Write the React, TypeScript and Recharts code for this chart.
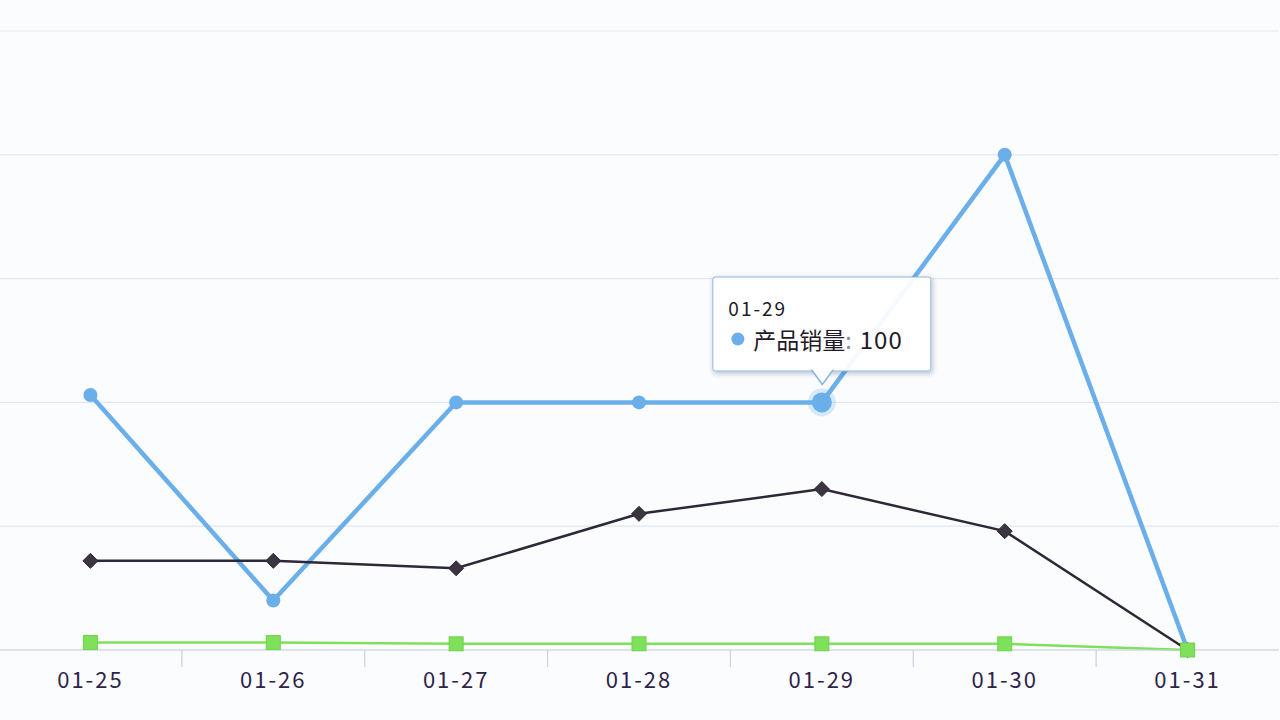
import { LineChart, Line, XAxis, YAxis, CartesianGrid, Tooltip } from 'recharts';

const days = ['01-25', '01-26', '01-27', '01-28', '01-29', '01-30', '01-31'];
const sales = [103, 20, 100, 100, 100, 200, 0];
const orders = [36, 36, 33, 55, 65, 48, 0];
const returns = [3, 3, 2.5, 2.5, 2.5, 2.5, 0];
const yTicks = [0, 50, 100, 150, 200, 250];

const data = days.map((day, i) => ({
    day,
    sales: sales[i],
    orders: orders[i],
    returns: returns[i],
}));

const BLUE = '#6aaeea';
const DARK = '#2c2838';
const GREEN = '#7fe05c';
const FONT = '"Noto Sans CJK SC", "Noto Sans", sans-serif';

const AxisTick = (props: any) => {
    const { x, y, payload } = props;
    const half = payload?.offset ?? 0;
    return (
        <g>
            <line x1={x - half} x2={x - half} y1={y} y2={y + 17} stroke="#c9d3e3" strokeWidth={1.2} />
            <text
                x={x}
                y={y + 38}
                textAnchor="middle"
                fill="#2e2448"
                fontSize={22}
                letterSpacing={2}
                fontFamily={FONT}
            >
                {payload.value}
            </text>
        </g>
    );
};

const Diamond = (props: any) => {
    const { cx, cy } = props;
    if (cx == null || cy == null) return null;
    const s = 7.5;
    return (
        <path
            d={`M${cx},${cy - s} L${cx + s},${cy} L${cx},${cy + s} L${cx - s},${cy} Z`}
            fill="#3b3542"
            stroke="#2c2838"
            strokeWidth={1}
        />
    );
};

const Square = (props: any) => {
    const { cx, cy } = props;
    if (cx == null || cy == null) return null;
    return <rect x={cx - 7} y={cy - 7} width={14} height={14} fill={GREEN} stroke="#6fd34c" strokeWidth={1} />;
};

const TipBox = ({ active, payload, label }: any) => {
    if (!active || !payload) return null;
    const item = payload.find((p: any) => p.dataKey === 'sales');
    if (!item) return null;
    return (
        <div style={{ transform: 'translate(-50%, calc(-100% - 4px))', position: 'relative' }}>
            <div
                style={{
                    width: 217,
                    height: 93,
                    boxSizing: 'content-box',
                    background: 'rgba(255,255,255,0.94)',
                    border: '1.5px solid #86b4e2',
                    borderRadius: 3,
                    boxShadow: '1px 2px 5px rgba(60,80,110,0.3)',
                    fontFamily: FONT,
                    color: '#1e1a28',
                    position: 'relative',
                }}
            >
                <div style={{ position: 'absolute', left: 15, top: 19, fontSize: 19, letterSpacing: 2, lineHeight: '22px' }}>
                    {label}
                </div>
                <div style={{ position: 'absolute', left: 18, top: 47, display: 'flex', alignItems: 'center', lineHeight: '28px' }}>
                    <span
                        style={{
                            display: 'inline-block',
                            width: 13,
                            height: 13,
                            borderRadius: '50%',
                            background: BLUE,
                            marginRight: 9,
                        }}
                    />
                    <span style={{ fontSize: 23 }}>{item.name}</span>
                    <span style={{ fontSize: 23, color: '#8a8a98' }}>:</span>
                    <span style={{ fontSize: 24, marginLeft: 8, letterSpacing: 1 }}>{item.value}</span>
                </div>
                <svg
                    width={24}
                    height={17}
                    style={{ position: 'absolute', left: '50%', bottom: -16, marginLeft: -12, overflow: 'visible' }}
                >
                    <path d="M1,0 L12,15 L23,0" fill="rgba(255,255,255,0.94)" stroke="#86b4e2" strokeWidth={1.5} />
                    <rect x={1.5} y={-2} width={21} height={2.5} fill="rgba(255,255,255,0.94)" />
                </svg>
            </div>
        </div>
    );
};

export default function App() {
    return (
        <div style={{ position: 'absolute', left: 0, top: 0, width: 1280, height: 720, background: '#fbfcfe' }}>
            <LineChart width={1280} height={720} data={data} margin={{ top: 31, right: 1, bottom: 0, left: -1 }}>
                <CartesianGrid vertical={false} stroke="#e1e7f0" strokeWidth={1.2} />
                <XAxis
                    dataKey="day"
                    scale="band"
                    height={70}
                    axisLine={{ stroke: '#c9d3e3', strokeWidth: 1.2 }}
                    tickLine={false}
                    tickSize={0}
                    tickMargin={0}
                    tick={<AxisTick />}
                    interval={0}
                />
                <YAxis hide domain={[0, 250]} ticks={yTicks} />
                <Tooltip
                    defaultIndex={4}
                    cursor={false}
                    offset={0}
                    allowEscapeViewBox={{ x: true, y: true }}
                    isAnimationActive={false}
                    content={<TipBox />}
                    wrapperStyle={{ outline: 'none' }}
                />
                <Line
                    name="产品销量"
                    dataKey="sales"
                    stroke={BLUE}
                    strokeWidth={4.5}
                    dot={{ r: 7, fill: BLUE, stroke: BLUE, strokeWidth: 0 }}
                    activeDot={{ r: 10, fill: BLUE, stroke: 'rgba(106,174,234,0.25)', strokeWidth: 8 }}
                    isAnimationActive={false}
                />
                <Line
                    name="订单数量"
                    dataKey="orders"
                    stroke={DARK}
                    strokeWidth={2.5}
                    dot={<Diamond />}
                    activeDot={false}
                    isAnimationActive={false}
                />
                <Line
                    name="退货数量"
                    dataKey="returns"
                    stroke={GREEN}
                    strokeWidth={2.5}
                    dot={<Square />}
                    activeDot={false}
                    isAnimationActive={false}
                />
            </LineChart>
        </div>
    );
}
